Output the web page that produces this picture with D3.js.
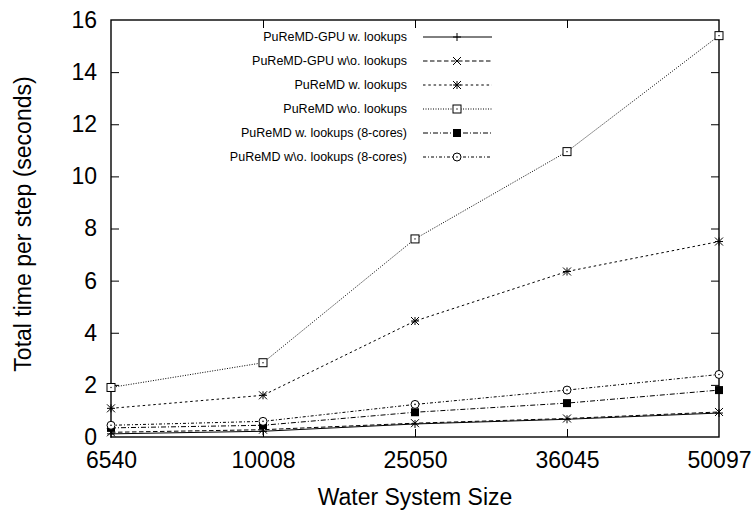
<!DOCTYPE html>
<html>
<head>
<meta charset="utf-8">
<script src="https://cdn.jsdelivr.net/npm/d3@7"></script>
<style>
  html, body { margin: 0; padding: 0; background: #fff; }
  svg { display: block; }
  text { font-family: "Liberation Sans", Arial, Helvetica, sans-serif; fill: #000; }
</style>
</head>
<body>
<svg id="chart" width="754" height="510"></svg>
<script>
// ---- data ----
const categories = ["6540", "10008", "25050", "36045", "50097"];
const yTicks = [0, 2, 4, 6, 8, 10, 12, 14, 16];
const seriesNames = [
  "PuReMD-GPU w. lookups",
  "PuReMD-GPU w\\o. lookups",
  "PuReMD w. lookups",
  "PuReMD w\\o. lookups",
  "PuReMD w. lookups (8-cores)",
  "PuReMD w\\o. lookups (8-cores)"
];
const gpuWithLookups    = [0.12, 0.22, 0.50, 0.68, 0.92];
const gpuWithoutLookups = [0.18, 0.28, 0.53, 0.71, 0.96];
const cpuWithLookups    = [1.10, 1.60, 4.45, 6.35, 7.50];
const cpuWithoutLookups = [1.90, 2.85, 7.60, 10.95, 15.40];
const cores8With        = [0.35, 0.45, 0.95, 1.30, 1.80];
const cores8Without     = [0.45, 0.60, 1.25, 1.80, 2.40];
const seriesValues = [gpuWithLookups, gpuWithoutLookups, cpuWithLookups, cpuWithoutLookups, cores8With, cores8Without];

// ---- styles ----
const dashes = ["none", "4.5,2.5", "2.5,2.8", "1,1.5", "5,2,1,2", "3,2,1,2"];
const markers = ["plus", "cross", "star", "box", "fbox", "circle"];

const svg = d3.select("#chart");
const L = 111, R = 719, T = 20, B = 437;

const x = d3.scalePoint().domain(categories).range([L, R]);
const y = d3.scaleLinear().domain([0, 16]).range([B, T]);

// axes (ticks inward)
const fontSize = 23;
const gB = svg.append("g").attr("transform", `translate(0,${B})`)
  .call(d3.axisBottom(x).tickSize(-8).tickPadding(15));
const gT = svg.append("g").attr("transform", `translate(0,${T})`)
  .call(d3.axisTop(x).tickSize(-8).tickFormat(""));
const gL = svg.append("g").attr("transform", `translate(${L},0)`)
  .call(d3.axisLeft(y).tickValues(yTicks).tickSize(-8).tickPadding(14));
const gR = svg.append("g").attr("transform", `translate(${R},0)`)
  .call(d3.axisRight(y).tickValues(yTicks).tickSize(-8).tickFormat(""));
[gB, gT, gL, gR].forEach(g => {
  g.select(".domain").remove();
  g.selectAll(".tick line").attr("stroke", "#000").attr("stroke-width", 1);
  g.selectAll(".tick text").attr("font-size", fontSize)
    .attr("font-family", '"Liberation Sans", Arial, sans-serif').attr("fill", "#000");
});
// remove edge ticks that coincide with frame
gT.selectAll(".tick").filter(d => d === categories[0] || d === categories[categories.length-1]).select("line").remove();
gB.selectAll(".tick").filter(d => d === categories[0] || d === categories[categories.length-1]).select("line").remove();
gL.selectAll(".tick").filter(d => d === 0 || d === 16).select("line").remove();
gR.selectAll(".tick").filter(d => d === 0 || d === 16).select("line").remove();

// frame
svg.append("rect").attr("x", L).attr("y", T).attr("width", R - L).attr("height", B - T)
  .attr("fill", "none").attr("stroke", "#000").attr("stroke-width", 1.4);

// axis titles
svg.append("text").attr("x", (L + R) / 2).attr("y", 505).attr("text-anchor", "middle")
  .attr("font-size", fontSize).text("Water System Size");
svg.append("text").attr("transform", `translate(31,224) rotate(-90)`)
  .attr("text-anchor", "middle").attr("font-size", fontSize).text("Total time per step (seconds)");

// marker drawer
function drawMarker(g, type, cx, cy) {
  const s = 4;
  if (type === "plus") {
    g.append("path").attr("d", `M${cx-s},${cy}H${cx+s}M${cx},${cy-s}V${cy+s}`).attr("stroke", "#000").attr("stroke-width", 1);
  } else if (type === "cross") {
    g.append("path").attr("d", `M${cx-s},${cy-s}L${cx+s},${cy+s}M${cx-s},${cy+s}L${cx+s},${cy-s}`).attr("stroke", "#000").attr("stroke-width", 1);
  } else if (type === "star") {
    g.append("path").attr("d", `M${cx-s},${cy}H${cx+s}M${cx},${cy-s}V${cy+s}M${cx-s},${cy-s}L${cx+s},${cy+s}M${cx-s},${cy+s}L${cx+s},${cy-s}`).attr("stroke", "#000").attr("stroke-width", 1);
  } else if (type === "box") {
    g.append("rect").attr("x", cx - s).attr("y", cy - s).attr("width", 2*s).attr("height", 2*s)
      .attr("fill", "#fff").attr("stroke", "#000").attr("stroke-width", 1);
    g.append("rect").attr("x", cx - 0.6).attr("y", cy - 0.6).attr("width", 1.2).attr("height", 1.2).attr("fill", "#000");
  } else if (type === "fbox") {
    g.append("rect").attr("x", cx - s).attr("y", cy - s).attr("width", 2*s).attr("height", 2*s).attr("fill", "#000");
  } else if (type === "circle") {
    g.append("circle").attr("cx", cx).attr("cy", cy).attr("r", s).attr("fill", "#fff").attr("stroke", "#000").attr("stroke-width", 1);
    g.append("circle").attr("cx", cx).attr("cy", cy).attr("r", 0.8).attr("fill", "#000");
  }
}

// lines
const line = d3.line().x((d, i) => x(categories[i])).y(d => y(d));
const gData = svg.append("g");
seriesValues.forEach((vals, k) => {
  gData.append("path").datum(vals).attr("d", line).attr("fill", "none")
    .attr("stroke", "#000").attr("stroke-width", 1)
    .attr("stroke-dasharray", dashes[k]);
});
seriesValues.forEach((vals, k) => {
  vals.forEach((v, i) => drawMarker(gData, markers[k], x(categories[i]), y(v)));
});

// legend
const legX = 407, legS0 = 423, legS1 = 492, legM = 457, legY0 = 37, legDY = 24;
const gLeg = svg.append("g");
seriesNames.forEach((name, k) => {
  const yy = legY0 + k * legDY;
  gLeg.append("text").attr("x", legX).attr("y", yy).attr("dy", "0.35em")
    .attr("text-anchor", "end").attr("font-size", 12.5).text(name);
  gLeg.append("line").attr("x1", legS0).attr("x2", legS1).attr("y1", yy).attr("y2", yy)
    .attr("stroke", "#000").attr("stroke-width", 1).attr("stroke-dasharray", dashes[k]);
  drawMarker(gLeg, markers[k], legM, yy);
});
</script>
</body>
</html>
